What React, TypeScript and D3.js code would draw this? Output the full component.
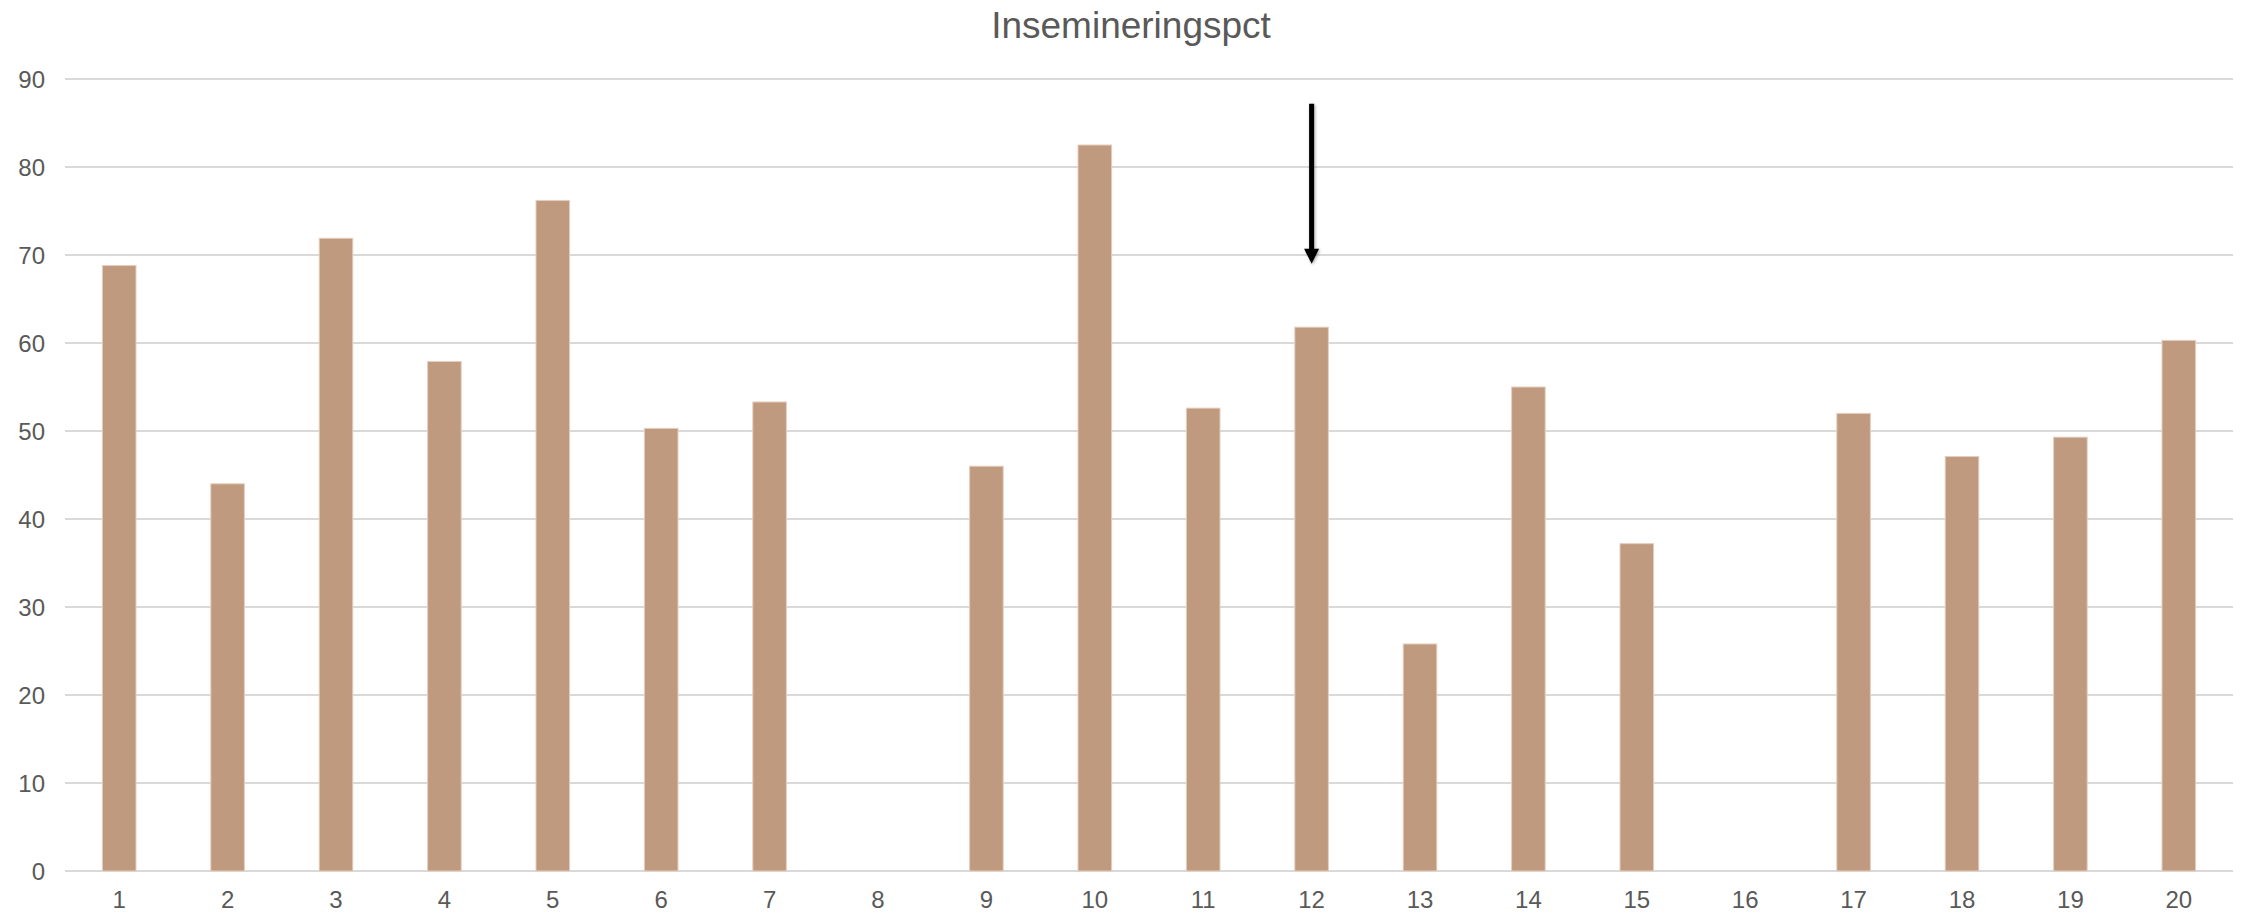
import React from "react";
import * as d3 from "d3";

const categories: string[] = ["1","2","3","4","5","6","7","8","9","10","11","12","13","14","15","16","17","18","19","20"];
const values: (number | null)[] = [68.8, 44.0, 71.9, 57.9, 76.2, 50.3, 53.3, null, 46.0, 82.5, 52.6, 61.8, 25.8, 55.0, 37.2, null, 52.0, 47.1, 49.3, 60.3];
const yTicks: number[] = [0, 10, 20, 30, 40, 50, 60, 70, 80, 90];
const title = "Insemineringspct";
// arrow annotation: category and value range (from top to tip)
const arrowCategory = "12";
const arrowFrom = 87.2;
const arrowTo = 69.0;

const W = 2242;
const H = 915;
const FONT = "'Liberation Sans', Arial, sans-serif";

export default function App() {
  const x = d3.scaleBand<string>().domain(categories).range([65, 2233]).paddingInner(0.69).paddingOuter(0.345);
  const y = d3.scaleLinear().domain([0, 90]).range([871, 79]);
  const bw = x.bandwidth();

  const ax = (x(arrowCategory) ?? 0) + bw / 2;
  const aTop = y(arrowFrom);
  const aTip = y(arrowTo);
  const headH = 15;
  const headW = 15;

  return (
    <svg width={W} height={H} style={{ position: "absolute", left: 0, top: 0, display: "block", background: "#fff" }} fontFamily={FONT}>
      <rect x={0} y={0} width={W} height={H} fill="#ffffff" />
      <text x={1131} y={38} textAnchor="middle" fontSize={37} fill="#595959">{title}</text>
      {yTicks.map((t) => (
        <g key={t}>
          <line x1={65} x2={2233} y1={y(t)} y2={y(t)} stroke="#d9d9d9" strokeWidth={2} />
          <text x={45} y={y(t)} textAnchor="end" dominantBaseline="central" fontSize={24} fill="#595959">{t}</text>
        </g>
      ))}
      {categories.map((c, i) => {
        const v = values[i];
        const cx = (x(c) ?? 0) + bw / 2;
        return (
          <g key={c}>
            {v !== null && (
              <rect x={x(c)} y={y(v)} width={bw} height={y(0) - y(v)} fill="#c09a7e" stroke="#e4cfbf" strokeWidth={1} />
            )}
            <text x={cx} y={908} textAnchor="middle" fontSize={24} fill="#595959">{c}</text>
          </g>
        );
      })}
      <defs>
        <filter id="sh" x="-50%" y="-10%" width="200%" height="120%">
          <feGaussianBlur in="SourceAlpha" stdDeviation="1.5" />
          <feOffset dx="1" dy="1" result="b" />
          <feComponentTransfer><feFuncA type="linear" slope="0.35" /></feComponentTransfer>
          <feMerge><feMergeNode /><feMergeNode in="SourceGraphic" /></feMerge>
        </filter>
      </defs>
      <g filter="url(#sh)">
        <line x1={ax} x2={ax} y1={aTop} y2={aTip - headH + 1} stroke="#000" strokeWidth={5} />
        <path d={`M${ax - headW / 2},${aTip - headH} L${ax + headW / 2},${aTip - headH} L${ax},${aTip} Z`} fill="#000" />
      </g>
    </svg>
  );
}
